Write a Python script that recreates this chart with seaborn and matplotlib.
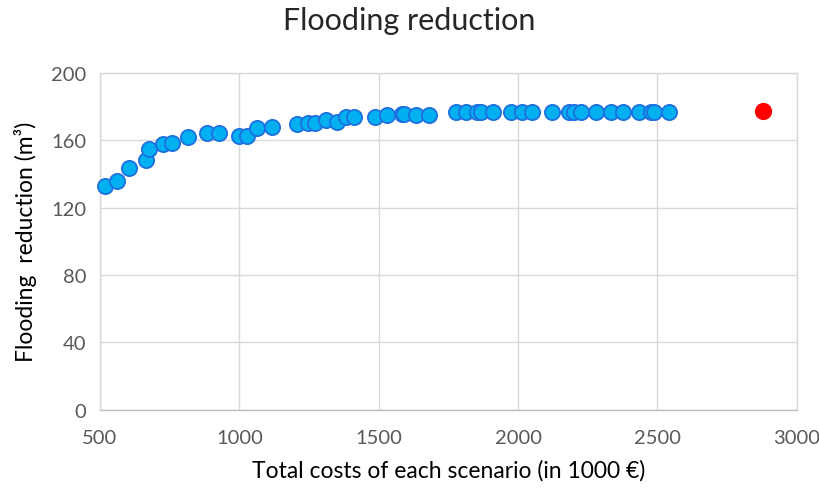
import matplotlib
matplotlib.use("Agg")
import matplotlib.pyplot as plt
import seaborn as sns
import pandas as pd

costs = [518, 561, 604, 665, 675, 725, 760, 816, 884, 927, 998, 1027, 1065, 1118,
         1208, 1248, 1273, 1312, 1352, 1384, 1410, 1485, 1531, 1582, 1590, 1633, 1681,
         1777, 1812, 1854, 1866, 1911, 1973, 2015, 2051, 2123, 2183, 2201, 2225, 2279,
         2333, 2375, 2432, 2476, 2488, 2542]
reduction = [133, 136, 143.5, 148, 155, 158, 158.5, 162, 164, 164.5, 162.5, 162.5, 167, 168,
             169.5, 170, 170, 172, 171, 174, 174, 173.5, 175, 175.5, 175.5, 175, 175,
             176.8, 177, 177, 177, 177, 177, 177, 177, 177, 177, 177, 177, 177,
             177, 177, 177, 177, 177, 177]
best_cost = [2880]
best_reduction = [177.5]

x_ticks = [500, 1000, 1500, 2000, 2500, 3000]
y_ticks = [0, 40, 80, 120, 160, 200]

sns.set_theme(style="white")
plt.rcParams['font.family'] = ['Lato', 'DejaVu Sans']

df = pd.DataFrame({"cost": costs, "red": reduction})
dfb = pd.DataFrame({"cost": best_cost, "red": best_reduction})

fig = plt.figure(figsize=(8.19, 4.89), dpi=100)
ax = fig.add_axes([0.122, 0.160, 0.851, 0.689])

sns.scatterplot(data=df, x="cost", y="red", ax=ax, s=120, color="#00B0F0",
                edgecolor="#1F6FE0", linewidth=1.3, zorder=3, clip_on=False)
sns.scatterplot(data=dfb, x="cost", y="red", ax=ax, s=130, color="#FF0000",
                edgecolor="#FF0000", linewidth=1, zorder=3, clip_on=False)

ax.set_xlim(500, 3000)
ax.set_ylim(0, 200)
ax.set_xticks(x_ticks)
ax.set_yticks(y_ticks)
ax.grid(True, color="#D9D9D9", linewidth=1)
ax.set_axisbelow(True)
for side in ["top", "right", "left", "bottom"]:
    ax.spines[side].set_color("#D9D9D9")
    ax.spines[side].set_linewidth(1)
ax.spines["bottom"].set_color("#BFBFBF")
ax.tick_params(axis="both", labelsize=14.5, colors="#595959", length=0)
ax.tick_params(axis="x", pad=14)
ax.tick_params(axis="y", pad=10)

ax.set_xlabel("Total costs of each scenario (in 1000 €)", fontsize=16.5, color="black", labelpad=9)
ax.set_ylabel("Flooding  reduction (m³)", fontsize=16.5, color="black", labelpad=10)
fig.suptitle("Flooding reduction", fontsize=22, y=0.985)

fig.savefig("out.png", dpi=100)
